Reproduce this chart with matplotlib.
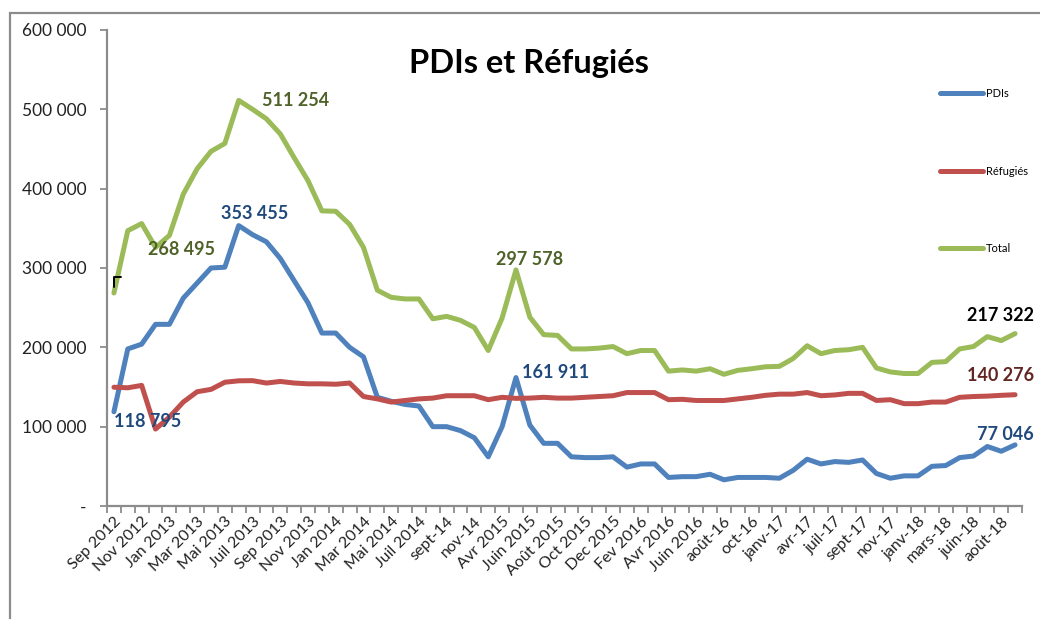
import matplotlib
matplotlib.use("Agg")
import matplotlib.pyplot as plt
from matplotlib.lines import Line2D
from matplotlib.patches import Rectangle

plt.rcParams["font.family"] = ["Lato", "DejaVu Sans"]

# categories (only every second one is labelled on the chart)
mois = ["Sep 2012", "Oct 2012", "Nov 2012", "Dec 2012", "Jan 2013", "Fev 2013",
        "Mar 2013", "Avr 2013", "Mai 2013", "Juin 2013", "Juil 2013", "Août 2013",
        "Sep 2013", "Oct 2013", "Nov 2013", "Dec 2013", "Jan 2014", "Fev 2014",
        "Mar 2014", "Avr 2014", "Mai 2014", "Juin 2014", "Juil 2014", "août-14",
        "sept-14", "oct-14", "nov-14", "Fev 2015", "Avr 2015", "Mai 2015",
        "Juin 2015", "Juil 2015", "Août 2015", "Sep 2015", "Oct 2015", "Nov 2015",
        "Dec 2015", "Jan 2016", "Fev 2016", "Mar 2016", "Avr 2016", "Mai 2016",
        "Juin 2016", "juil-16", "août-16", "sept-16", "oct-16", "déc-16",
        "janv-17", "mars-17", "avr-17", "juin-17", "juil-17", "août-17",
        "sept-17", "oct-17", "nov-17", "déc-17", "janv-18", "févr-18",
        "mars-18", "mai-18", "juin-18", "juil-18", "août-18", "sept-18"]

pdis = [118795, 198000, 204000, 229000, 229000, 262000, 281000, 300000, 301000, 353455,
        342000, 333000, 312000, 284000, 256000, 218000, 218000, 200000, 188000, 137000,
        132000, 128000, 126000, 100000, 100000, 95000, 86000, 62000, 100000, 161911,
        102000, 79000, 79000, 62000, 61000, 61000, 62000, 49000, 53000, 53000,
        36000, 37000, 37000, 40000, 33000, 36000, 36000, 36000, 35000, 45000,
        59000, 53000, 56000, 55000, 58000, 41000, 35000, 38000, 38000, 50000,
        51000, 61000, 63000, 75000, 69000, 77046]

refugies = [149700, 149000, 152000, 97000, 112000, 131000, 144000, 147000, 156000, 157799,
            158000, 155000, 157000, 155000, 154000, 154000, 153500, 155000, 138000, 135000,
            131000, 133000, 135000, 136000, 139000, 139000, 139000, 134000, 137000, 135667,
            136000, 137000, 136000, 136000, 137000, 138000, 139000, 143000, 143000, 143000,
            134000, 134500, 133000, 133000, 133000, 135000, 137000, 139500, 141000, 141000,
            143000, 139000, 140000, 142000, 142000, 133000, 134000, 129000, 129000, 131000,
            131000, 137000, 138000, 138500, 139500, 140276]

total = [268495, 347000, 356000, 326000, 341000, 393000, 425000, 447000, 457000, 511254,
         500000, 488000, 469000, 439000, 410000, 372000, 371500, 355000, 326000, 272000,
         263000, 261000, 261000, 236000, 239000, 234000, 225000, 196000, 237000, 297578,
         238000, 216000, 215000, 198000, 198000, 199000, 201000, 192000, 196000, 196000,
         170000, 171500, 170000, 173000, 166000, 171000, 173000, 175500, 176000, 186000,
         202000, 192000, 196000, 197000, 200000, 174000, 169000, 167000, 167000, 181000,
         182000, 198000, 201000, 213500, 208500, 217322]

C_PDI = "#4F81BD"
C_REF = "#C0504D"
C_TOT = "#9BBB59"
LW = 3.6


def fmt(v):
    return "{:,}".format(v).replace(",", " ")


fig = plt.figure(figsize=(10.4, 6.19), dpi=100)
ax = fig.add_axes([107 / 1040, 1 - 506 / 619, (1022 - 107) / 1040, (506 - 30) / 619])

x = list(range(len(mois)))
ax.plot(x, pdis, color=C_PDI, lw=LW, solid_capstyle="round", label="PDIs")
ax.plot(x, refugies, color=C_REF, lw=LW, solid_capstyle="round", label="Réfugiés")
ax.plot(x, total, color=C_TOT, lw=LW, solid_capstyle="round", label="Total")

ax.set_xlim(-0.5, len(mois) - 0.5)
ax.set_ylim(0, 600000)

yt = [0, 100000, 200000, 300000, 400000, 500000, 600000]
ax.set_yticks(yt)
ax.set_yticklabels(["-"] + [fmt(v) for v in yt[1:]], fontsize=12.5, color="#222222")

ax.set_xticks(x[::2])
ax.set_xticklabels(mois[::2], rotation=45, ha="right", rotation_mode="anchor",
                   fontsize=11.5, color="#222222")
ax.set_xticks([i - 0.5 for i in range(len(mois) + 1)], minor=True)
ax.tick_params(axis="x", which="major", length=0, pad=6)
ax.tick_params(axis="x", which="minor", length=5, width=1.3, color="#8c8c8c")
ax.tick_params(axis="y", length=5, width=1.3, color="#8c8c8c", pad=10)

for s in ["top", "right"]:
    ax.spines[s].set_visible(False)
for s in ["left", "bottom"]:
    ax.spines[s].set_color("#8c8c8c")
    ax.spines[s].set_linewidth(1.6)

# point labels (offsets in pixels)
lab = dict(fontsize=13, fontweight="bold", textcoords="offset pixels")
ax.annotate(fmt(total[9]), (9, total[9]), xytext=(23, 0), ha="left", va="center",
            color="#4F6228", **lab)
ax.annotate(fmt(pdis[9]), (9, pdis[9]), xytext=(16, 12), ha="center", va="center",
            color="#1F497D", **lab)
ax.annotate(fmt(pdis[0]), (0, pdis[0]), xytext=(0, -10), ha="left", va="center",
            color="#1F497D", **lab)
ax.annotate(fmt(total[0]), (0, total[0]), xytext=(34, 43), ha="left", va="center",
            color="#4F6228", **lab)
ax.annotate("", (0, total[0] + 4000), xytext=(10, 13), textcoords="offset pixels",
            arrowprops=dict(arrowstyle="-", color="black", lw=1.4,
                            connectionstyle="angle,angleA=0,angleB=90,rad=0"))
ax.annotate(fmt(total[29]), (29, total[29]), xytext=(14, 10), ha="center", va="center",
            color="#4F6228", **lab)
ax.annotate(fmt(pdis[29]), (29, pdis[29]), xytext=(6, 5), ha="left", va="center",
            color="#1F497D", **lab)
# end labels sit against the right edge of the image
ax.annotate(fmt(total[65]), (65, total[65]), xytext=(19, 18), ha="right", va="center",
            color="black", annotation_clip=False, **lab)
ax.annotate(fmt(refugies[65]), (65, refugies[65]), xytext=(19, 19), ha="right", va="center",
            color="#632523", annotation_clip=False, **lab)
ax.annotate(fmt(pdis[65]), (65, pdis[65]), xytext=(19, 10), ha="right", va="center",
            color="#1F497D", annotation_clip=False, **lab)

fig.text(529 / 1040, 1 - 64 / 619, "PDIs et Réfugiés", ha="center", va="center",
         fontsize=23.5, fontweight="bold", color="black")

handles = [Line2D([], [], color=c, lw=LW, solid_capstyle="round") for c in (C_PDI, C_REF, C_TOT)]
fig.legend(handles, ["PDIs", "Réfugiés", "Total"], loc="upper left",
           bbox_to_anchor=(940 / 1040, 1 - 88 / 619), frameon=False, fontsize=8,
           handlelength=3.9, handletextpad=0.2, labelspacing=6.0, borderpad=0,
           borderaxespad=0)

# outer chart border (left and top)
fig.patches.append(Rectangle((10 / 1040, -0.1), 1.2, 1 - 13 / 619 + 0.1,
                             transform=fig.transFigure, fill=False,
                             edgecolor="#8c8c8c", lw=1.6))

fig.savefig("out.png", dpi=100)
